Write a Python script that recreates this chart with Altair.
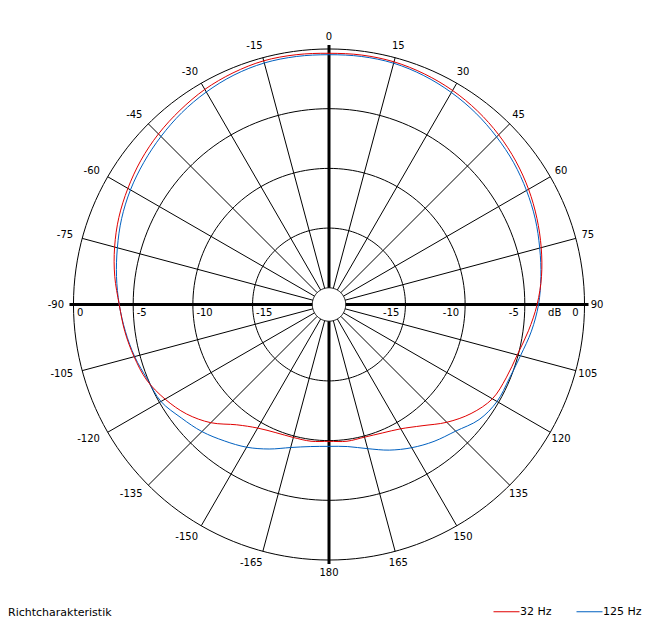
import altair as alt
import pandas as pd

# ---------------- data ----------------
angle_deg = [-180, -172.5, -165, -157.5, -150, -142.5, -135, -127.5, -120, -112.5, -105, -97.5,
             -90, -82.5, -75, -67.5, -60, -52.5, -45, -37.5, -30, -22.5, -15, -7.5,
             0, 7.5, 15, 22.5, 30, 37.5, 45, 52.5, 60, 67.5, 75, 82.5,
             90, 97.5, 105, 112.5, 120, 127.5, 135, 142.5, 150, 157.5, 165, 172.5]

level_32hz = [-9.94, -9.85, -9.87, -9.78, -9.45, -8.7, -7.4, -6.35, -5.55, -4.87, -4.5, -4.15,
              -3.83, -3.3, -2.81, -2.35, -1.95, -1.55, -1.2, -0.9, -0.6, -0.4, -0.27, -0.3,
              -0.36, -0.33, -0.36, -0.5, -0.7, -0.97, -1.3, -1.68, -2.1, -2.55, -3.0, -3.45,
              -3.97, -4.55, -5.08, -5.34, -5.6, -6.4, -7.45, -8.6, -9.38, -9.75, -9.9, -9.85]

level_125hz = [-9.52, -9.4, -9.0, -8.3, -7.6, -7.0, -6.35, -5.8, -5.15, -4.95, -4.55, -4.2,
               -3.83, -3.45, -3.05, -2.6, -2.2, -1.85, -1.5, -1.15, -0.85, -0.6, -0.46, -0.45,
               -0.48, -0.45, -0.48, -0.65, -0.9, -1.2, -1.55, -1.9, -2.3, -2.7, -3.13, -3.5,
               -3.85, -4.3, -4.8, -5.08, -5.15, -5.56, -6.4, -6.95, -7.55, -8.2, -8.9, -9.4]

series_names = ["32 Hz", "125 Hz"]
series_colors = ["#e00000", "#0060c0"]

ring_levels = [-20, -15, -10, -5, 0]
minor_spokes = [-165, -150, -135, -120, -105, -75, -60, -45, -30, -15,
                15, 30, 45, 60, 75, 105, 120, 135, 150, 165]
major_spokes = [-90, 0, 90, 180]
pos_ticks = [0, 15, 30, 45, 60, 75, 90, 105, 120, 135, 150, 165, 180]
neg_ticks = [-15, -30, -45, -60, -75, -90, -105, -120, -135, -150, -165]
db_ticks = [0, -5, -10, -15]
unit_label = ["dB"]
chart_title = "Richtcharakteristik"

# ---------------- geometry ----------------
PX = 11.94          # pixels per dB
OFF = 21.4          # dB-units from centre to the 0 dB ring (-20 dB ring is the small centre circle)
W, H = 637, 590
CX, CY = 321, 296.5
R_LABEL = 268 / PX
R_AXIS_END = OFF + 4 / PX
FONT = "DejaVu Sans"

xs = alt.Scale(domain=[-CX / PX, (W - CX) / PX], nice=False, zero=False)
ys = alt.Scale(domain=[-(H - CY) / PX, CY / PX], nice=False, zero=False)
X = alt.X("px:Q", scale=xs, axis=None)
Y = alt.Y("py:Q", scale=ys, axis=None)


def polar(chart, r_expr, a_field="a"):
    return chart.transform_calculate(
        px=f"({r_expr})*sin(datum.{a_field}*PI/180)",
        py=f"({r_expr})*cos(datum.{a_field}*PI/180)",
    )


# rings
rings = polar(
    alt.Chart(pd.DataFrame({"lvl": ring_levels}))
    .transform_calculate(a="sequence(0, 362, 2)")
    .transform_flatten(["a"]),
    f"datum.lvl + {OFF}",
).mark_line(color="black", strokeWidth=1).encode(x=X, y=Y, detail="lvl:N", order="a:Q")

# thin spokes
spokes = polar(
    alt.Chart(pd.DataFrame({"a": minor_spokes}))
    .transform_calculate(r=f"[{OFF - 20}, {OFF}]")
    .transform_flatten(["r"]),
    "datum.r",
).mark_line(color="black", strokeWidth=1).encode(x=X, y=Y, detail="a:N", order="r:Q")

# thick main axes
axes = polar(
    alt.Chart(pd.DataFrame({"a": major_spokes}))
    .transform_calculate(r=f"[{OFF - 20}, {R_AXIS_END}]")
    .transform_flatten(["r"]),
    "datum.r",
).mark_line(color="black", strokeWidth=3).encode(x=X, y=Y, detail="a:N", order="r:Q")

# curves
curve_df = pd.concat([
    pd.DataFrame({"a": angle_deg, "db": level_125hz, "freq": series_names[1]}),
    pd.DataFrame({"a": angle_deg, "db": level_32hz, "freq": series_names[0]}),
])
curves = polar(alt.Chart(curve_df), f"datum.db + {OFF}").mark_line(
    interpolate="cardinal-closed", strokeWidth=1
).encode(
    x=X, y=Y,
    color=alt.Color(
        "freq:N",
        scale=alt.Scale(domain=series_names, range=series_colors),
        legend=alt.Legend(
            title=None, orient="none", legendX=485, legendY=590,
            direction="horizontal", symbolType="stroke", symbolSize=676,
            symbolStrokeWidth=1, labelFont=FONT, labelFontSize=11,
            labelColor="black", labelOffset=0, columnPadding=22, padding=0,
        ),
    ),
    order="a:Q",
)

# angle labels
pos_labels = polar(
    alt.Chart(pd.DataFrame({"a": pos_ticks, "lab": [str(v) for v in pos_ticks]})),
    f"{R_LABEL}",
).mark_text(font=FONT, fontSize=10, align="center", baseline="middle", color="black").encode(
    x=X, y=Y, text="lab:N")
neg_labels = polar(
    alt.Chart(pd.DataFrame({"a": neg_ticks, "lab": [str(v) for v in neg_ticks]})),
    f"{R_LABEL}",
).mark_text(font=FONT, fontSize=10, align="right", baseline="middle", dx=3, color="black").encode(
    x=X, y=Y, text="lab:N")

# dB labels along the horizontal axis
db_df = pd.DataFrame({"lvl": db_ticks, "lab": [str(v) for v in db_ticks]})
db_left = alt.Chart(db_df).transform_calculate(px=f"-(datum.lvl + {OFF})", py="0").mark_text(
    font=FONT, fontSize=10, align="left", baseline="middle", dx=3.5, dy=8.5, color="black"
).encode(x=X, y=Y, text="lab:N")
db_right = alt.Chart(db_df).transform_calculate(px=f"datum.lvl + {OFF}", py="0").mark_text(
    font=FONT, fontSize=10, align="right", baseline="middle", dx=-6, dy=8.5, color="black"
).encode(x=X, y=Y, text="lab:N")
db_unit = alt.Chart(pd.DataFrame({"lvl": [-2.5], "lab": unit_label})).transform_calculate(
    px=f"datum.lvl + {OFF}", py="0").mark_text(
    font=FONT, fontSize=10, align="center", baseline="middle", dy=8.5, color="black"
).encode(x=X, y=Y, text="lab:N")

chart = alt.layer(
    rings, spokes, axes, curves, pos_labels, neg_labels, db_left, db_right, db_unit
).properties(
    width=W, height=H, autosize="none",
    padding={"left": 0, "top": 0, "right": 0, "bottom": 22},
    title=alt.TitleParams(
        chart_title, orient="bottom", anchor="start", frame="group",
        font=FONT, fontSize=11, fontWeight="normal", color="black", offset=-10,
    ),
).configure_view(stroke=None)

chart.save("out.html", embed_options={"renderer": "svg", "actions": False})
